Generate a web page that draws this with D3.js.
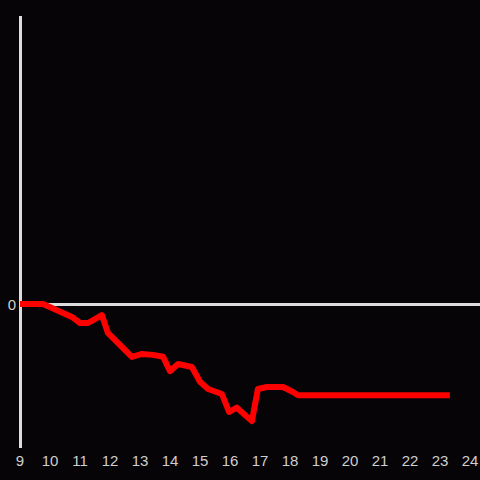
<!DOCTYPE html>
<html>
<head>
<meta charset="utf-8">
<script src="https://d3js.org/d3.v7.min.js"></script>
<style>
  body { margin: 0; background: #060406; }
  text { font-family: "Liberation Sans", Arial, sans-serif; }
</style>
</head>
<body>
<div id="chart"></div>
<script>
// hours on x, running value on y
var hours  = [9.0, 9.77, 10.73, 11.0, 11.27, 11.73, 11.93, 12.73, 13.07, 13.43, 13.77, 14.0, 14.27, 14.73, 15.0, 15.27, 15.73, 15.97, 16.23, 16.73, 16.93, 17.23, 17.77, 18.1, 18.27, 23.33];
var values = [0, 0, -13.5, -19.8, -19.8, -11.5, -30.2, -55.2, -52, -53, -55, -70, -62.5, -65.6, -81, -88.5, -93.75, -112.5, -108, -122, -88.5, -86.5, -86.5, -91.7, -95, -95];
var xTicks = [9, 10, 11, 12, 13, 14, 15, 16, 17, 18, 19, 20, 21, 22, 23, 24];
var yTicks = [0];

var width = 480, height = 480;

var svg = d3.select('#chart').append('svg')
  .attr('width', width)
  .attr('height', height)
  .style('background', '#060406');

var x = d3.scaleLinear().domain([9, 24]).range([20, 470]);
var y = d3.scaleLinear().domain([-150, 300]).range([448, 16]);

// y axis line
svg.append('line')
  .attr('x1', 20.5).attr('x2', 20.5)
  .attr('y1', y(300)).attr('y2', y(-150))
  .attr('stroke', '#dcdcdc').attr('stroke-width', 3);

// zero line
svg.append('line')
  .attr('x1', 20).attr('x2', width)
  .attr('y1', y(0) + 0.5).attr('y2', y(0) + 0.5)
  .attr('stroke', '#dcdcdc').attr('stroke-width', 3);

svg.selectAll('.ylab')
  .data(yTicks)
  .enter().append('text')
  .attr('class', 'ylab')
  .attr('x', 16)
  .attr('y', function(d) { return y(d) + 6; })
  .attr('text-anchor', 'end')
  .attr('fill', '#cfcfcf')
  .style('font-size', '15px')
  .text(function(d) { return d; });

svg.selectAll('.xlab')
  .data(xTicks)
  .enter().append('text')
  .attr('class', 'xlab')
  .attr('x', function(d) { return x(d); })
  .attr('y', 466)
  .attr('text-anchor', 'middle')
  .attr('fill', '#cfcfcf')
  .style('font-size', '15px')
  .text(function(d) { return d; });

var pts = hours.map(function(h, i) { return [h, values[i]]; });

var line = d3.line()
  .x(function(d) { return x(d[0]); })
  .y(function(d) { return y(d[1]); });

svg.append('path')
  .datum(pts)
  .attr('d', line)
  .attr('fill', 'none')
  .attr('stroke', '#ff0000')
  .attr('stroke-width', 6)
  .attr('stroke-linejoin', 'round')
  .attr('stroke-linecap', 'butt');
</script>
</body>
</html>
